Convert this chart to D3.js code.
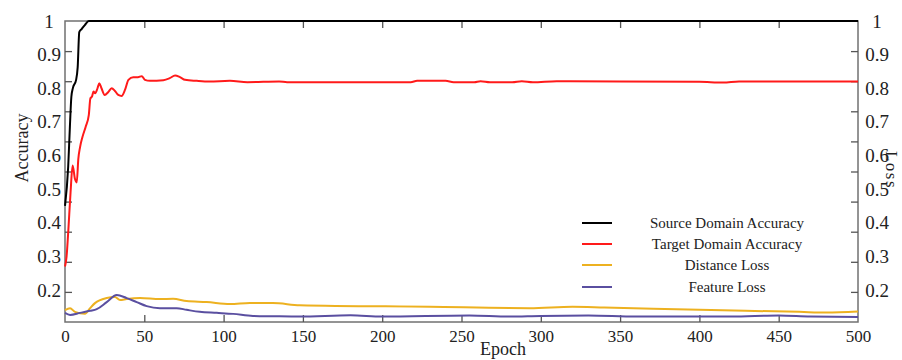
<!DOCTYPE html>
<html>
<head>
<meta charset="utf-8">
<script src="https://cdn.jsdelivr.net/npm/d3@7"></script>
<style>
  body { margin: 0; background: #fff; }
  text { font-family: "Liberation Serif", "Times New Roman", serif; fill: #222; }
</style>
</head>
<body>
<script>
// epochs / values
var sourceEpoch = [0, 2, 3, 4, 5, 7, 8, 9, 10.5, 12.5, 15, 500];
var sourceAcc   = [0.45, 0.566, 0.676, 0.774, 0.801, 0.825, 0.863, 0.967, 0.976, 0.988, 1.0, 1.0];

var targetEpoch = [0, 1, 2, 3.5, 4.8, 6.3, 7.4, 8.4, 9.5, 11, 13, 15, 16, 17, 18, 19, 20.5, 21.6, 23, 25,
  27.3, 29.4, 31.5, 33.6, 35.7, 37.8, 40, 43, 46, 48.4, 50.4, 53.6, 62, 66, 69.4, 72.5, 75.7, 83, 91,
  104, 115, 135, 140, 218, 222, 240, 245, 258, 262, 268, 282, 288, 295, 310, 350, 400, 415, 425, 480, 500];
var targetAcc   = [0.27, 0.30, 0.37, 0.49, 0.57, 0.53, 0.52, 0.59, 0.625, 0.655, 0.685, 0.72, 0.77, 0.775, 0.79, 0.785, 0.80, 0.815, 0.80, 0.78,
  0.789, 0.80, 0.792, 0.78, 0.777, 0.795, 0.825, 0.833, 0.833, 0.836, 0.825, 0.822, 0.824, 0.83, 0.838, 0.833, 0.825, 0.822, 0.82,
  0.822, 0.818, 0.820, 0.818, 0.818, 0.822, 0.822, 0.818, 0.818, 0.821, 0.818, 0.818, 0.821, 0.818, 0.821, 0.820, 0.819, 0.817, 0.82, 0.82, 0.82];

var distEpoch = [0, 3.2, 6.3, 12.6, 15.8, 18.9, 26.3, 31.5, 34.7, 38.9, 47.3, 59.9, 68.1, 76.7, 89.3, 104, 116.6, 131, 148,
  230, 293, 320, 340, 400, 463, 480, 500];
var distLoss  = [0.140, 0.146, 0.135, 0.129, 0.146, 0.161, 0.176, 0.179, 0.170, 0.173, 0.176, 0.173, 0.174, 0.167, 0.164, 0.158, 0.161, 0.161, 0.155,
  0.150, 0.146, 0.150, 0.148, 0.141, 0.135, 0.133, 0.136];

var featEpoch = [0, 3.2, 9.5, 15.8, 20, 26.3, 32.6, 38.9, 45.2, 51.5, 59.9, 70.4, 76.7, 85, 95.6, 106, 118.5, 131, 148,
  180, 200, 255, 280, 300, 330, 360, 420, 450, 470, 500];
var featLoss  = [0.132, 0.126, 0.132, 0.138, 0.143, 0.164, 0.185, 0.176, 0.164, 0.152, 0.146, 0.146, 0.141, 0.135, 0.132, 0.129, 0.123, 0.122, 0.121,
  0.125, 0.121, 0.124, 0.121, 0.123, 0.124, 0.121, 0.121, 0.124, 0.121, 0.120];

var seriesNames  = ["Source Domain Accuracy", "Target Domain Accuracy", "Distance Loss", "Feature Loss"];
var seriesColors = ["#000000", "#ff1a1a", "#edb120", "#5a4fa0"];

var yLabelTicks = [0.2, 0.3, 0.4, 0.5, 0.6, 0.7, 0.8, 0.9, 1];
var yMarkTicks  = [0.1, 0.2, 0.3, 0.4, 0.5, 0.6, 0.7, 0.8, 0.9];
var xTicks      = [0, 50, 100, 150, 200, 250, 300, 350, 400, 450, 500];

var width = 902, height = 360;
var plotL = 65, plotR = 858, plotT = 21, plotB = 322;

var x = d3.scaleLinear().domain([0, 500]).range([plotL, plotR]);
// label scale: 1 at the top frame, 0.2 at y=290
var yLab = d3.scaleLinear().domain([0.2, 1]).range([290, plotT]);
var y = d3.scaleLinear().domain([yLab.invert(plotB), 1]).range([plotB, plotT]);
// the tick marks sit on an evenly split 0..1 grid
var yMark = d3.scaleLinear().domain([0, 1]).range([plotB, plotT]);

var svg = d3.select("body").append("svg")
    .attr("width", width)
    .attr("height", height);

svg.append("rect").attr("width", width).attr("height", height).attr("fill", "#fff");

// frame
svg.append("rect")
    .attr("x", plotL).attr("y", plotT)
    .attr("width", plotR - plotL).attr("height", plotB - plotT)
    .attr("fill", "none").attr("stroke", "#707070").attr("stroke-width", 1.5);

function styleMarks(g) {
  g.select(".domain").remove();
  g.selectAll(".tick line").attr("stroke", "#555").attr("stroke-width", 1.3);
  g.selectAll(".tick text").remove();
}

// tick marks pointing inward
svg.append("g").attr("transform", "translate(" + plotL + ",0)")
    .call(d3.axisRight(yMark).tickValues(yMarkTicks).tickSize(7)).call(styleMarks);
svg.append("g").attr("transform", "translate(" + plotR + ",0)")
    .call(d3.axisLeft(yMark).tickValues(yMarkTicks).tickSize(7)).call(styleMarks);
svg.append("g").attr("transform", "translate(0," + plotB + ")")
    .call(d3.axisTop(x).tickValues(xTicks.slice(1, -1)).tickSize(7)).call(styleMarks);
svg.append("g").attr("transform", "translate(0," + plotT + ")")
    .call(d3.axisBottom(x).tickValues(xTicks.slice(1, -1)).tickSize(7)).call(styleMarks);

// tick labels
function styleLabels(g, size) {
  g.select(".domain").remove();
  g.selectAll(".tick line").remove();
  g.selectAll(".tick text").attr("font-size", size).attr("fill", "#222");
}
svg.append("g").attr("transform", "translate(0," + plotB + ")")
    .call(d3.axisBottom(x).tickValues(xTicks).tickSize(0).tickPadding(8).tickFormat(d3.format("d")))
    .call(styleLabels, 17);

var yFmt = function(d) { return d === 1 ? "1" : d3.format(".1f")(d); };
var ly = svg.append("g").attr("transform", "translate(49,0)")
    .call(d3.axisLeft(yLab).tickValues(yLabelTicks).tickSize(0).tickPadding(0).tickFormat(yFmt))
    .call(styleLabels, 19);
ly.selectAll(".tick text").attr("text-anchor", "middle").attr("x", 0);
var ry = svg.append("g").attr("transform", "translate(877,0)")
    .call(d3.axisRight(yLab).tickValues(yLabelTicks).tickSize(0).tickPadding(0).tickFormat(yFmt))
    .call(styleLabels, 19);
ry.selectAll(".tick text").attr("text-anchor", "middle").attr("x", 0);
svg.selectAll("g").attr("font-family", null);

// axis titles
svg.append("text").attr("transform", "translate(28,148) rotate(-90)")
    .attr("text-anchor", "middle").attr("font-size", 18).text("Accuracy");
svg.append("text").attr("transform", "translate(886,170) rotate(90)")
    .attr("text-anchor", "middle").attr("font-size", 17).attr("letter-spacing", 1.5).text("Loss");
svg.append("text").attr("x", 503).attr("y", 355)
    .attr("text-anchor", "middle").attr("font-size", 18).text("Epoch");

// lines
var series = [
  {ex: sourceEpoch, v: sourceAcc},
  {ex: targetEpoch, v: targetAcc},
  {ex: distEpoch, v: distLoss},
  {ex: featEpoch, v: featLoss}
];
var line = d3.line()
    .x(function(d) { return x(d[0]); })
    .y(function(d) { return y(d[1]); })
    .curve(d3.curveMonotoneX);

// loss lines underneath, then accuracy
[2, 3, 1, 0].forEach(function(i) {
  var s = series[i];
  svg.append("path")
      .datum(d3.zip(s.ex, s.v))
      .attr("fill", "none")
      .attr("stroke", seriesColors[i])
      .attr("stroke-width", 2)
      .attr("stroke-linejoin", "round")
      .attr("d", line);
});

// legend
var legendY = [223, 244, 265, 287];
var legend = svg.append("g");
seriesNames.forEach(function(name, i) {
  legend.append("line")
      .attr("x1", 582).attr("x2", 612)
      .attr("y1", legendY[i]).attr("y2", legendY[i])
      .attr("stroke", seriesColors[i]).attr("stroke-width", 2);
  legend.append("text")
      .attr("x", 727).attr("y", legendY[i]).attr("dy", "0.3em")
      .attr("text-anchor", "middle").attr("font-size", 15)
      .text(name);
});
</script>
</body>
</html>
